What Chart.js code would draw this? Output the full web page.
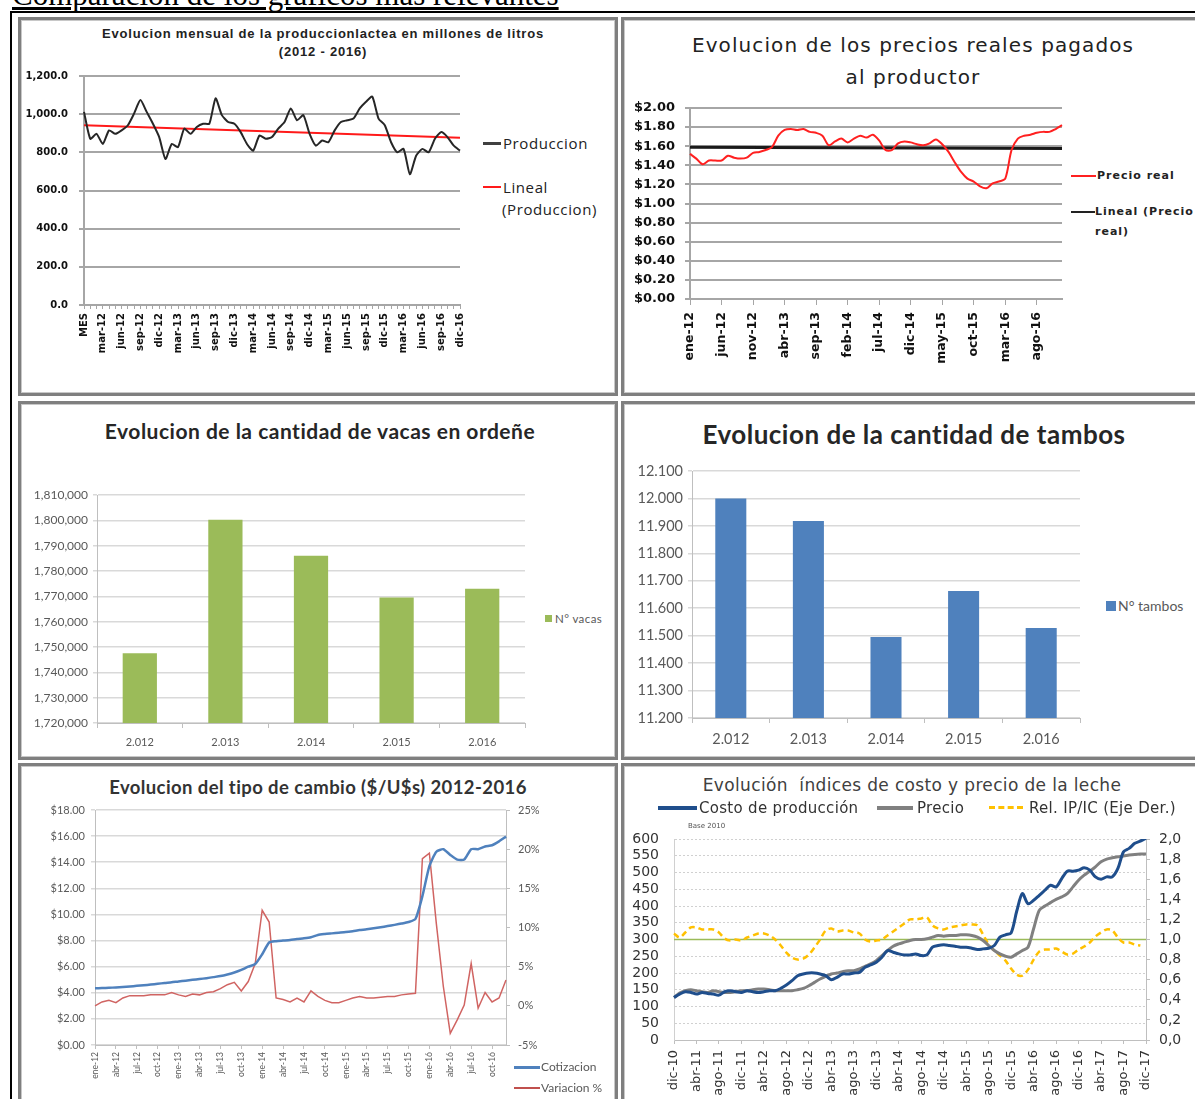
<!DOCTYPE html>
<html>
<head>
<meta charset="utf-8">
<script src="https://cdn.jsdelivr.net/npm/chart.js@4.4.1/dist/chart.umd.min.js"></script>
<style>
  html, body { margin: 0; padding: 0; background: #fff; }
  body { width: 1195px; height: 1099px; overflow: hidden; position: relative; font-family: 'Liberation Sans', Arial, sans-serif; }
  .abs { position: absolute; }
  .panel { position: absolute; box-sizing: border-box; border: 3px solid #7f7f7f; box-shadow: inset 0 0 0 1px #c8c8c8; background: #fff; }
  canvas { position: absolute; }
  .t { position: absolute; white-space: pre; text-align: center; }
  .lg { position: absolute; white-space: pre; }
</style>
</head>
<body>
<div class="abs" style="left:12px;top:-23px;font:31px 'Liberation Serif';line-height:36px;text-decoration:underline;">Comparación de los gráficos más relevantes</div>
<div class="abs" style="left:10px;top:11px;width:1190px;height:1100px;border-top:2px solid #000;border-left:2px solid #000;"></div>

<div class="panel" style="left:18px;top:17px;width:600px;height:379px;"></div>
<div class="panel" style="left:621px;top:17px;width:580px;height:379px;"></div>
<div class="panel" style="left:18px;top:401px;width:600px;height:359px;"></div>
<div class="panel" style="left:621px;top:401px;width:580px;height:359px;"></div>
<div class="panel" style="left:18px;top:763px;width:600px;height:345px;"></div>
<div class="panel" style="left:621px;top:763px;width:580px;height:345px;"></div>

<canvas id="c1" width="445" height="310" style="left:20px;top:66px;"></canvas>
<canvas id="c2" width="443" height="282" style="left:624px;top:98px;"></canvas>
<canvas id="c3" width="508" height="272" style="left:22px;top:485px;"></canvas>
<canvas id="c4" width="459" height="295" style="left:626px;top:461px;"></canvas>
<canvas id="c5" width="530" height="295" style="left:22px;top:800px;"></canvas>
<canvas id="c6" width="569" height="270" style="left:626px;top:829px;"></canvas>

<!-- titulos -->
<div class="t" style="left:18px;width:610px;top:25px;font:bold 13px 'Liberation Sans';letter-spacing:0.8px;line-height:18px;color:#222;">Evolucion mensual de la produccionlactea en millones de litros
(2012 - 2016)</div>
<div class="t" style="left:620px;width:586px;top:29px;font:20px 'DejaVu Sans';letter-spacing:1.1px;line-height:32px;color:#222;">Evolucion de los precios reales pagados
al productor</div>
<div class="t" style="left:18px;width:604px;top:418px;font:bold 21px Lato;letter-spacing:0.5px;line-height:26px;color:#262626;">Evolucion de la cantidad de vacas en ordeñe</div>
<div class="t" style="left:621px;width:586px;top:418px;font:bold 26px Lato;letter-spacing:0.5px;line-height:32px;color:#262626;">Evolucion de la cantidad de tambos</div>
<div class="t" style="left:18px;width:600px;top:775px;font:bold 18.5px Lato;letter-spacing:0.4px;line-height:24px;color:#333;">Evolucion del tipo de cambio ($/U$s) 2012-2016</div>
<div class="t" style="left:621px;width:582px;top:773px;font:17px 'DejaVu Sans';letter-spacing:0.35px;line-height:24px;color:#404040;">Evolución  índices de costo y precio de la leche</div>

<!-- leyendas -->
<div class="abs" style="left:483px;top:142px;width:18px;border-top:3px solid #404040;"></div>
<div class="lg" style="left:503px;top:134px;font:15px 'Open Sans';letter-spacing:0.6px;line-height:18px;color:#222;">Produccion</div>
<div class="abs" style="left:483px;top:186px;width:18px;border-top:2px solid #ff1a1a;"></div>
<div class="lg" style="left:503px;top:178px;font:15px 'Open Sans';letter-spacing:0.6px;line-height:18px;color:#222;">Lineal</div>
<div class="lg" style="left:502px;top:200px;font:15px 'Open Sans';letter-spacing:0.6px;line-height:18px;color:#222;">(Produccion)</div>

<div class="abs" style="left:1071px;top:175px;width:25px;border-top:2px solid #ff2020;"></div>
<div class="lg" style="left:1097px;top:169px;font:bold 11px 'DejaVu Sans';letter-spacing:1px;line-height:14px;color:#222;">Precio real</div>
<div class="abs" style="left:1071px;top:211px;width:24px;border-top:2px solid #222;"></div>
<div class="lg" style="left:1095px;top:205px;font:bold 11px 'DejaVu Sans';letter-spacing:1px;line-height:14px;color:#222;">Lineal (Precio</div>
<div class="lg" style="left:1095px;top:225px;font:bold 11px 'DejaVu Sans';letter-spacing:1px;line-height:14px;color:#222;">real)</div>

<div class="abs" style="left:545px;top:615px;width:7px;height:7px;background:#9bbb59;"></div>
<div class="lg" style="left:555px;top:611px;font:11.5px Lato;letter-spacing:0.4px;line-height:16px;color:#595959;">N° vacas</div>

<div class="abs" style="left:1106px;top:601px;width:10px;height:10px;background:#4f81bd;"></div>
<div class="lg" style="left:1118px;top:597px;font:14px Lato;line-height:18px;color:#595959;">N° tambos</div>

<div class="abs" style="left:514px;top:1066px;width:26px;border-top:3px solid #4f81bd;"></div>
<div class="lg" style="left:541px;top:1059px;font:12px Lato;line-height:16px;color:#595959;">Cotizacion</div>
<div class="abs" style="left:514px;top:1087px;width:26px;border-top:2px solid #c0504d;"></div>
<div class="lg" style="left:541px;top:1080px;font:12px Lato;line-height:16px;color:#595959;">Variacion %</div>

<div class="abs" style="left:658px;top:806px;width:39px;border-top:4px solid #1f4e8c;"></div>
<div class="lg" style="left:699px;top:798px;font:15px 'DejaVu Sans';letter-spacing:0.3px;line-height:20px;color:#333;">Costo de producción</div>
<div class="abs" style="left:877px;top:806px;width:36px;border-top:4px solid #808080;"></div>
<div class="lg" style="left:917px;top:798px;font:15px 'DejaVu Sans';letter-spacing:0.3px;line-height:20px;color:#333;">Precio</div>
<div class="abs" style="left:989px;top:806px;width:34px;border-top:3px dashed #ffc000;"></div>
<div class="lg" style="left:1029px;top:798px;font:15px 'DejaVu Sans';letter-spacing:0.3px;line-height:20px;color:#333;">Rel. IP/IC (Eje Der.)</div>
<div class="lg" style="left:688px;top:821px;font:7px 'DejaVu Sans';line-height:10px;color:#555;">Base 2010</div>

<script>
const MESES = ['ene', 'feb', 'mar', 'abr', 'may', 'jun', 'jul', 'ago', 'sep', 'oct', 'nov', 'dic'];
function mesesDesde(mes, anio, n) {
  const out = [];
  for (let i = 0; i < n; i++) {
    const m = (mes + i) % 12;
    const a = anio + Math.floor((mes + i) / 12);
    out.push(MESES[m] + '-' + a);
  }
  return out;
}

// 1. produccion lactea mensual (millones de litros)
const prodLabels = ['MES'].concat(mesesDesde(0, 12, 60));
const prodValues = [
  1012, 871, 897, 844, 915, 897, 915, 942, 1004, 1074,
  1012, 950, 880, 765, 844, 827, 924, 897, 933, 950,
  950, 1083, 995, 959, 950, 906, 844, 809, 888, 871,
  880, 924, 959, 1030, 968, 995, 897, 835, 862, 853,
  915, 959, 968, 977, 1030, 1065, 1092, 977, 942, 853,
  800, 818, 685, 782, 818, 800, 871, 906, 880, 835,
  809
];
const prodTrend = [942, 876];

// 2. precio real pagado al productor
const precioLabels = mesesDesde(0, 12, 60);
const precioValues = [
  1.52, 1.47, 1.41, 1.45, 1.45, 1.45, 1.50, 1.48, 1.47, 1.48,
  1.53, 1.54, 1.56, 1.59, 1.71, 1.77, 1.78, 1.77, 1.78, 1.75,
  1.74, 1.71, 1.61, 1.65, 1.68, 1.64, 1.68, 1.71, 1.69, 1.72,
  1.66, 1.56, 1.56, 1.63, 1.65, 1.64, 1.62, 1.61, 1.63, 1.67,
  1.62, 1.54, 1.43, 1.33, 1.26, 1.23, 1.18, 1.16, 1.21, 1.23,
  1.26, 1.56, 1.68, 1.71, 1.72, 1.74, 1.75, 1.75, 1.78, 1.82
];
const precioTrend = [1.59, 1.575];

// 3. vacas en ordeñe
const anios = ['2.012', '2.013', '2.014', '2.015', '2.016'];
const vacas = [1747500, 1800200, 1786000, 1769500, 1773000];

// 4. tambos
const tambos = [12000, 11918, 11495, 11663, 11528];

// 5. tipo de cambio
const cambioLabels = mesesDesde(0, 12, 60);
const cotizacion = [
  4.34, 4.36, 4.38, 4.41, 4.44, 4.48, 4.53, 4.58, 4.63, 4.69,
  4.75, 4.80, 4.87, 4.93, 4.99, 5.05, 5.12, 5.20, 5.28, 5.40,
  5.55, 5.75, 6.00, 6.20, 6.95, 7.85, 7.95, 8.00, 8.05, 8.12,
  8.17, 8.25, 8.43, 8.50, 8.55, 8.60, 8.65, 8.72, 8.80, 8.86,
  8.94, 9.02, 9.11, 9.20, 9.30, 9.42, 9.65, 11.40, 13.70, 14.80,
  15.00, 14.56, 14.20, 14.20, 15.00, 15.00, 15.20, 15.30, 15.60, 15.96
];
const variacion = [
  0.0, 0.5, 0.7, 0.4, 1.0, 1.3, 1.3, 1.3, 1.4, 1.4,
  1.4, 1.7, 1.4, 1.2, 1.5, 1.4, 1.7, 1.8, 2.2, 2.7,
  3.0, 1.9, 3.1, 5.4, 12.2, 10.7, 1.0, 0.8, 0.5, 1.0,
  0.5, 1.9, 1.2, 0.7, 0.4, 0.4, 0.7, 1.0, 1.2, 1.0,
  1.0, 1.1, 1.2, 1.2, 1.4, 1.5, 1.6, 18.8, 19.5, 10.5,
  2.5, -3.5, -1.8, 0.1, 5.4, -0.3, 1.7, 0.5, 1.0, 3.3
];

// 6. indices de costo y precio de la leche (base 2010)
const indiceLabels = mesesDesde(11, 10, 85);
const costo = [
  127, 137, 144, 142, 137, 142, 139, 137, 134, 144,
  147, 144, 142, 147, 144, 142, 144, 147, 147, 154,
  164, 177, 192, 197, 200, 200, 197, 192, 180, 187,
  197, 197, 200, 202, 217, 224, 232, 247, 267, 262,
  257, 254, 254, 257, 252, 254, 277, 282, 284, 282,
  280, 277, 277, 274, 270, 272, 274, 282, 307, 314,
  320, 385, 437, 407, 417, 432, 447, 462, 457, 482,
  504, 504, 507, 514, 507, 487, 480, 487, 487, 512,
  562, 572, 587, 594, 602
];
const precio = [
  127, 140, 147, 150, 147, 144, 142, 147, 144, 142,
  142, 144, 147, 147, 150, 152, 152, 150, 147, 147,
  147, 147, 150, 154, 162, 172, 182, 190, 197, 200,
  204, 207, 207, 212, 220, 227, 237, 252, 267, 280,
  287, 292, 297, 300, 300, 302, 307, 312, 310, 312,
  312, 314, 314, 312, 307, 297, 282, 267, 257, 250,
  247, 257, 267, 277, 332, 387, 400, 410, 420, 427,
  437, 457, 477, 492, 504, 517, 532, 540, 544, 547,
  549, 552, 554, 555, 555
];
const relIpIc = [
  1.06, 1.02, 1.07, 1.12, 1.12, 1.10, 1.10, 1.10, 1.07, 1.01,
  0.99, 1.00, 0.99, 1.02, 1.04, 1.06, 1.06, 1.04, 1.00, 0.94,
  0.87, 0.82, 0.80, 0.81, 0.85, 0.92, 1.00, 1.09, 1.11, 1.08,
  1.09, 1.09, 1.07, 1.06, 1.00, 0.98, 0.99, 1.00, 1.04, 1.08,
  1.12, 1.16, 1.20, 1.20, 1.21, 1.22, 1.14, 1.11, 1.10, 1.12,
  1.13, 1.14, 1.15, 1.15, 1.14, 1.05, 0.95, 0.89, 0.84, 0.79,
  0.71, 0.65, 0.64, 0.70, 0.80, 0.88, 0.90, 0.90, 0.91, 0.88,
  0.85, 0.86, 0.90, 0.93, 0.97, 1.03, 1.07, 1.10, 1.09, 1.02,
  0.97, 0.97, 0.95, 0.94, null
];
const relReferencia = 1.0;

Chart.defaults.animation = false;
Chart.defaults.responsive = false;
Chart.defaults.plugins.legend.display = false;
Chart.defaults.plugins.tooltip.enabled = false;

// fixed axis sizes so the plot areas land where the reference has them
function fixY(w) { return s => { s.width = w; s.paddingTop = 0; s.paddingBottom = 0; }; }
function fixX(h) { return s => { s.height = h; s.paddingLeft = 0; s.paddingRight = 0; }; }
function everyN(labels, n) { return (v, i) => (i % n === 0 ? labels[i] : ''); }
function tickEvery(n, color) { return ctx => (ctx.index % n === 0 ? color : 'rgba(0,0,0,0)'); }
function endpoints(labels, pair) {
  return labels.map((_, i) => (i === 0 ? pair[0] : i === labels.length - 1 ? pair[1] : null));
}

// 1
new Chart(document.getElementById('c1'), {
  type: 'line',
  data: {
    labels: prodLabels,
    datasets: [
      { data: prodValues, borderColor: '#262626', borderWidth: 2, pointRadius: 0, tension: 0.2 },
      { data: endpoints(prodLabels, prodTrend), borderColor: '#ff1a1a', borderWidth: 2, pointRadius: 0, spanGaps: true }
    ]
  },
  options: {
    layout: { padding: { top: 10, right: 5 } },
    scales: {
      x: {
        offset: false,
        afterFit: fixX(71),
        grid: { drawOnChartArea: false, tickLength: 4, color: '#a6a6a6' },
        border: { color: '#a6a6a6', width: 2 },
        ticks: { autoSkip: false, minRotation: 90, maxRotation: 90, padding: 4, color: '#111',
                 font: { family: 'DejaVu Sans', size: 10, weight: 'bold' }, callback: everyN(prodLabels, 3) }
      },
      y: {
        min: 0, max: 1200,
        afterFit: fixY(64),
        grid: { color: '#a6a6a6', lineWidth: 2, tickLength: 5 },
        border: { color: '#a6a6a6', width: 2 },
        ticks: { stepSize: 200, autoSkip: false, padding: 11, color: '#111', font: { family: 'DejaVu Sans', size: 10, weight: 'bold' },
                 callback: v => v.toLocaleString('en-US', { minimumFractionDigits: 1, maximumFractionDigits: 1 }) }
      }
    }
  }
});

// 2
new Chart(document.getElementById('c2'), {
  type: 'line',
  data: {
    labels: precioLabels,
    datasets: [
      { data: precioValues, borderColor: '#ff2020', borderWidth: 2, pointRadius: 0, tension: 0.3 },
      { data: endpoints(precioLabels, precioTrend), borderColor: '#1a1a1a', borderWidth: 3, pointRadius: 0, spanGaps: true }
    ]
  },
  options: {
    layout: { padding: { top: 10, right: 5 } },
    scales: {
      x: {
        offset: false,
        afterFit: fixX(81),
        grid: { drawOnChartArea: false, tickLength: 6, color: '#a6a6a6', tickColor: tickEvery(5, '#a6a6a6') },
        border: { color: '#a6a6a6', width: 2 },
        ticks: { autoSkip: false, minRotation: 90, maxRotation: 90, padding: 7, color: '#111',
                 font: { family: 'DejaVu Sans', size: 12.5, weight: 'bold' }, callback: everyN(precioLabels, 5) }
      },
      y: {
        min: 0, max: 2,
        afterFit: fixY(66),
        grid: { color: '#a6a6a6', lineWidth: 2, tickLength: 5 },
        border: { color: '#a6a6a6', width: 2 },
        ticks: { stepSize: 0.2, autoSkip: false, padding: 10, color: '#111', font: { family: 'DejaVu Sans', size: 13, weight: 'bold' },
                 callback: v => '$' + v.toFixed(2) }
      }
    }
  }
});

// 3 y 4: barras anuales
function barChart(id, values, color, opts) {
  return new Chart(document.getElementById(id), {
    type: 'bar',
    data: { labels: anios, datasets: [{ data: values, backgroundColor: color, barPercentage: 0.4, categoryPercentage: 1 }] },
    options: {
      layout: { padding: { top: 10, right: 5 } },
      scales: {
        x: {
          afterFit: fixX(opts.xh),
          grid: { drawOnChartArea: false, tickLength: 5, color: '#bfbfbf' },
          border: { color: '#bfbfbf' },
          ticks: { padding: 8, color: '#595959', font: { family: 'Lato', size: opts.xfont } }
        },
        y: {
          min: opts.min, max: opts.max,
          afterFit: fixY(opts.yw),
          grid: { color: '#d9d9d9', lineWidth: 1.5, tickLength: 4 },
          border: { color: '#bfbfbf' },
          ticks: { stepSize: opts.step, padding: 5, autoSkip: false, color: '#595959', font: { family: 'Lato', size: opts.yfont },
                   callback: opts.fmt }
        }
      }
    }
  });
}
barChart('c3', vacas, '#9bbb59', { xh: 34, yw: 75, min: 1720000, max: 1810000, step: 10000, xfont: 11, yfont: 12,
  fmt: v => v.toLocaleString('en-US') });
barChart('c4', tambos, '#4f81bd', { xh: 38, yw: 66, min: 11200, max: 12100, step: 100, xfont: 14.5, yfont: 14.5,
  fmt: v => v.toLocaleString('de-DE') });

// 5
new Chart(document.getElementById('c5'), {
  type: 'line',
  data: {
    labels: cambioLabels,
    datasets: [
      { data: cotizacion, borderColor: '#4f81bd', borderWidth: 2.5, pointRadius: 0, tension: 0.2, yAxisID: 'y' },
      { data: variacion, borderColor: '#d06462', borderWidth: 1.5, pointRadius: 0, tension: 0, yAxisID: 'y2' }
    ]
  },
  options: {
    layout: { padding: { top: 10 } },
    scales: {
      x: {
        offset: false,
        afterFit: fixX(50),
        grid: { drawOnChartArea: false, tickLength: 4, color: '#bfbfbf', tickColor: tickEvery(3, '#bfbfbf') },
        border: { color: '#bfbfbf' },
        ticks: { autoSkip: false, minRotation: 90, maxRotation: 90, padding: 3, color: '#595959',
                 font: { family: 'Lato', size: 8.5 }, callback: everyN(cambioLabels, 3) }
      },
      y: {
        position: 'left', min: 0, max: 18,
        afterFit: fixY(73),
        grid: { color: '#d9d9d9', lineWidth: 1.5, tickLength: 4 },
        border: { color: '#bfbfbf' },
        ticks: { stepSize: 2, autoSkip: false, padding: 6, color: '#595959', font: { family: 'Lato', size: 11 }, callback: v => '$' + v.toFixed(2) }
      },
      y2: {
        position: 'right', min: -5, max: 25,
        afterFit: fixY(46),
        grid: { drawOnChartArea: false, tickLength: 4, color: '#bfbfbf' },
        border: { color: '#bfbfbf' },
        ticks: { stepSize: 5, autoSkip: false, padding: 8, color: '#595959', font: { family: 'Lato', size: 11 }, callback: v => v + '%' }
      }
    }
  }
});

// 6
const refLine = {
  id: 'refLine',
  beforeDatasetsDraw(chart, args, opts) {
    const { ctx, chartArea } = chart;
    const y = chart.scales.y2.getPixelForValue(opts.value);
    ctx.save();
    ctx.strokeStyle = opts.color;
    ctx.lineWidth = 1.5;
    ctx.beginPath();
    ctx.moveTo(chartArea.left, y);
    ctx.lineTo(chartArea.right, y);
    ctx.stroke();
    ctx.restore();
  }
};

new Chart(document.getElementById('c6'), {
  type: 'line',
  data: {
    labels: indiceLabels,
    datasets: [
      { data: costo, borderColor: '#1f4e8c', borderWidth: 3, pointRadius: 0, tension: 0.3, yAxisID: 'y' },
      { data: precio, borderColor: '#808080', borderWidth: 3, pointRadius: 0, tension: 0.3, yAxisID: 'y' },
      { data: relIpIc, borderColor: '#ffc000', borderWidth: 2.5, borderDash: [6, 4], pointRadius: 0, tension: 0.3, yAxisID: 'y2' }
    ]
  },
  plugins: [refLine],
  options: {
    layout: { padding: { top: 10 } },
    plugins: { refLine: { value: relReferencia, color: '#9bbb59' } },
    scales: {
      x: {
        offset: false,
        afterFit: fixX(59),
        grid: { drawOnChartArea: false, tickLength: 4, color: '#bfbfbf', tickColor: tickEvery(4, '#bfbfbf') },
        border: { color: '#bfbfbf' },
        ticks: { autoSkip: false, minRotation: 90, maxRotation: 90, padding: 6, color: '#333',
                 font: { family: 'DejaVu Sans', size: 13 }, callback: everyN(indiceLabels, 4) }
      },
      y: {
        position: 'left', min: 0, max: 600,
        afterFit: fixY(48),
        grid: { color: '#d0d0d0', lineWidth: 1, drawTicks: false },
        border: { color: '#d0d0d0', dash: [2, 2] },
        ticks: { stepSize: 50, autoSkip: false, padding: 15, color: '#333', font: { family: 'DejaVu Sans', size: 14 } }
      },
      y2: {
        position: 'right', min: 0, max: 2,
        afterFit: fixY(49),
        grid: { drawOnChartArea: false, tickLength: 4, color: '#bfbfbf' },
        border: { color: '#bfbfbf' },
        ticks: { stepSize: 0.2, autoSkip: false, padding: 9, color: '#333', font: { family: 'DejaVu Sans', size: 14 },
                 callback: v => v.toFixed(1).replace('.', ',') }
      }
    }
  }
});
</script>
</body>
</html>
